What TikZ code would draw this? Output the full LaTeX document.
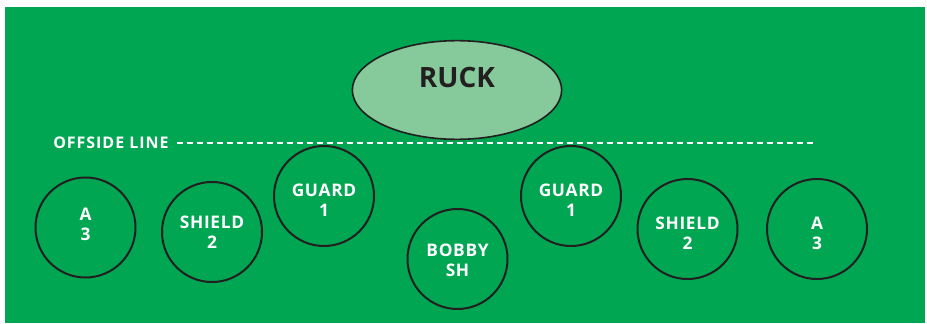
\documentclass[tikz,border=0pt]{standalone}
\usepackage{fontspec}
\setmainfont{Open Sans}
\newfontfamily\playerfont[LetterSpace=4]{Open Sans}
\newfontfamily\linefont[LetterSpace=6]{Open Sans}
\usepackage{tikz}
\usetikzlibrary{
positioning,
shapes.geometric
}
\definecolor{pitchgreen}{HTML}{00A651}
\definecolor{ruckgreen}{HTML}{86C99A}
\definecolor{inkblack}{HTML}{231F20}

\tikzset{
player/.style={circle, draw=inkblack, line width=1.5pt, minimum size=75pt, inner sep=0pt,
  text=white, align=center, text height=31pt, text depth=0pt,
  font=\playerfont\bfseries\fontsize{13}{15}\selectfont},
ruckbox/.style={ellipse, draw=inkblack, line width=1.2pt, fill=ruckgreen,
  minimum width=157pt, minimum height=74pt, inner sep=0pt},
}

\begin{document}
\begin{tikzpicture}[x=0.75pt, y=-0.75pt]

\useasboundingbox (0,0) rectangle (927,324);

% Pitch
\fill[pitchgreen] (5,7) rectangle (925,323);

% Ruck
\node[ruckbox] (ruck) at (457,90) {};
\node[text=inkblack, inner sep=0pt, font=\bfseries\fontsize{21}{25}\selectfont]
  (rucklabel) at ([yshift=9pt]ruck.center) {RUCK};

% Offside line
\node[anchor=west, inner xsep=0pt, inner ysep=0pt, text=white,
  font=\linefont\bfseries\fontsize{12}{14}\selectfont] (offside) at (53,143) {OFFSIDE LINE};
\coordinate (offsideend) at (815,143);
\draw[white, line width=1.1pt, dash pattern=on 4.5pt off 3pt]
  ([xshift=6pt]offside.east) -- (offsideend);

% Players
\node[player, text height=20pt] (a3left) at (85.5,227.5) {A\\3};
\node[player, text height=24.5pt] (shieldleft) at (212,232) {SHIELD\\2};
\node[player] (guardleft) at (324,196) {GUARD\\1};
\node[player, text height=26.5pt] (bobby) at (457.5,259) {BOBBY\\SH};
\node[player] (guardright) at (571,196) {GUARD\\1};
\node[player] (shieldright) at (687.5,229) {SHIELD\\2};
\node[player] (a3right) at (817,229) {A\\3};

\end{tikzpicture}
\end{document}
